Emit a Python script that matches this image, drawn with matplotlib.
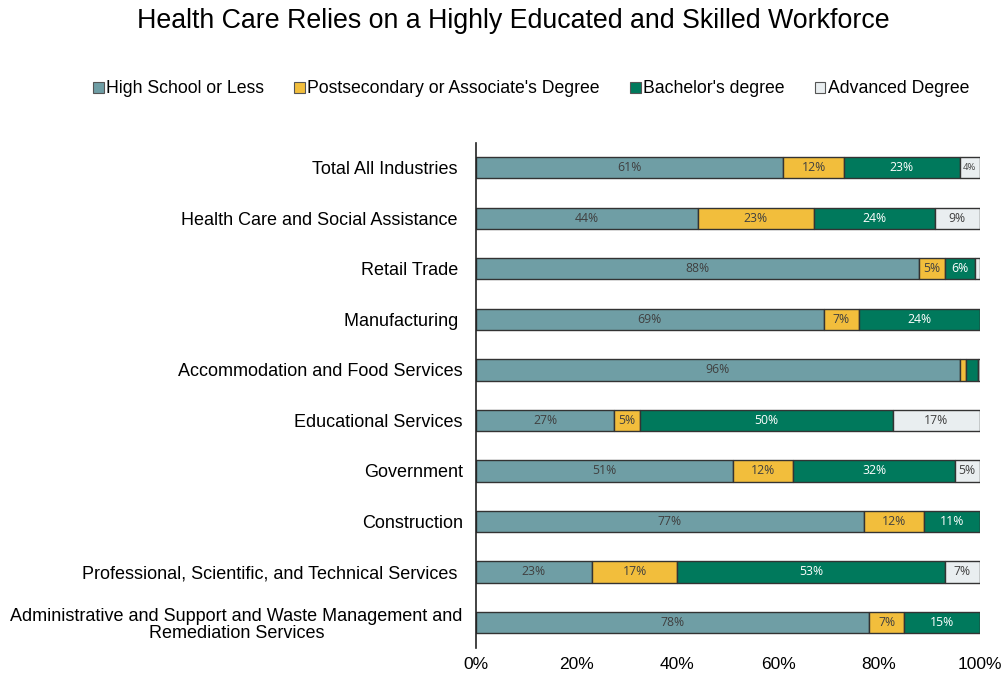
import numpy as np
import matplotlib
matplotlib.use("Agg")
import matplotlib.pyplot as plt
from matplotlib.patches import Patch

industries = [
    "Total All Industries ",
    "Health Care and Social Assistance ",
    "Retail Trade ",
    "Manufacturing ",
    "Accommodation and Food Services",
    "Educational Services",
    "Government",
    "Construction",
    "Professional, Scientific, and Technical Services ",
    "Administrative and Support and Waste Management and\nRemediation Services",
]
high_school = [61, 44, 88, 69, 96, 27.4, 51, 77, 23, 78]
postsecondary = [12, 23, 5, 7, 1.2, 5.1, 12, 12, 17, 7]
bachelors = [23, 24, 6, 24, 2.4, 50.2, 32, 11, 53, 15]
advanced = [4, 9, 1, 0.4, 0.4, 17.3, 5, 0.3, 7, 0.3]

series = ["High School or Less", "Postsecondary or Associate's Degree",
          "Bachelor's degree", "Advanced Degree"]
colors = ["#6F9EA5", "#F2BE3C", "#00795C", "#E9EEF0"]
text_colors = ["#404040", "#404040", "white", "#404040"]

plt.rcParams["font.family"] = ["Liberation Sans", "DejaVu Sans"]

fig = plt.figure(figsize=(10.04, 6.79), dpi=100)
ax = fig.add_axes([0.474, 0.046, 0.502, 0.744])

y = np.arange(len(industries))
left = np.zeros(len(industries))
for vals, col, tcol in zip([high_school, postsecondary, bachelors, advanced], colors, text_colors):
    vals = np.array(vals, dtype=float)
    ax.barh(y, vals, left=left, height=0.42, color=col, edgecolor="#333333", linewidth=1.0)
    for yi, (l, v) in enumerate(zip(left, vals)):
        if v >= 3.5:
            fs = 6.8 if v < 4.5 else 8.8
            ax.text(l + v / 2, yi, f"{v:.0f}%", ha="center", va="center",
                    fontsize=fs, color=tcol, family=["Open Sans", "DejaVu Sans"])
    left += vals

ax.set_xlim(0, 100)
ax.set_ylim(len(industries) - 0.5, -0.5)
ax.set_yticks(y)
ax.set_yticklabels(industries, fontsize=13, linespacing=1.05, multialignment="center")
ax.set_xticks(np.arange(0, 101, 20))
ax.set_xticklabels([f"{v}%" for v in range(0, 101, 20)], fontsize=12.5)
ax.tick_params(axis="y", length=0, pad=9.4)
ax.tick_params(axis="x", length=0, pad=7)
for s in ["top", "right", "bottom"]:
    ax.spines[s].set_visible(False)
ax.spines["left"].set_color("#222222")
ax.spines["left"].set_linewidth(1.2)

fig.suptitle("Health Care Relies on a Highly Educated and Skilled Workforce",
             fontsize=19.3, x=0.511, y=0.988)

handles = [Patch(facecolor=c, edgecolor="#555555", linewidth=0.8) for c in colors]
fig.legend(handles, series, loc="center", bbox_to_anchor=(0.529, 0.869), ncol=4,
           frameon=False, fontsize=12.7, handlelength=0.6, handleheight=0.6,
           handletextpad=0.15, columnspacing=1.7)

fig.savefig("out.png", dpi=100)
